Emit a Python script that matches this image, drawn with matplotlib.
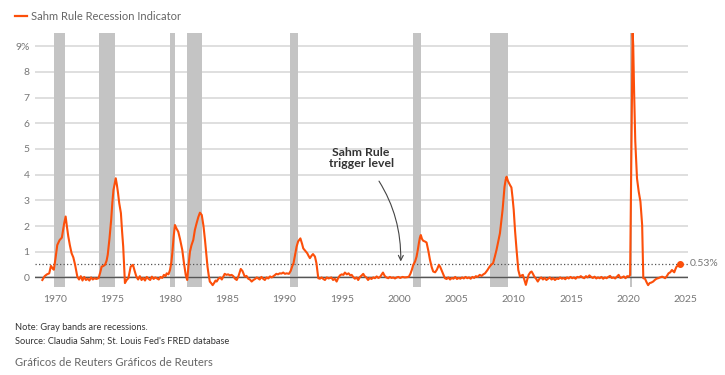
import matplotlib.pyplot as plt

plt.rcParams['font.family'] = ['Lato', 'DejaVu Sans']

# Sahm Rule indicator (year, percentage points)
years = [1968.9, 1969.1, 1969.3, 1969.5, 1969.65, 1969.8, 1969.9, 1970.05, 1970.2, 1970.4,
         1970.6, 1970.8, 1970.93, 1971.05, 1971.16, 1971.3, 1971.45, 1971.6, 1971.75, 1971.95,
         1972.1, 1972.25, 1972.4, 1972.55, 1972.7, 1972.85, 1973.0, 1973.15, 1973.3, 1973.45,
         1973.6, 1973.8, 1973.95, 1974.07, 1974.2, 1974.36, 1974.5, 1974.6, 1974.75, 1974.9,
         1975.0, 1975.1, 1975.3, 1975.4, 1975.5, 1975.6, 1975.75, 1975.85, 1975.95, 1976.1,
         1976.25, 1976.4, 1976.5, 1976.6, 1976.8, 1976.95, 1977.1, 1977.25, 1977.4, 1977.55,
         1977.7, 1977.85, 1978.0, 1978.15, 1978.3, 1978.45, 1978.6, 1978.75, 1978.9, 1979.05,
         1979.2, 1979.35, 1979.5, 1979.65, 1979.74, 1979.9, 1980.03, 1980.15, 1980.23, 1980.35,
         1980.46, 1980.6, 1980.75, 1980.9, 1981.1, 1981.25, 1981.4, 1981.53, 1981.65, 1981.77,
         1981.9, 1982.06, 1982.2, 1982.35, 1982.5, 1982.64, 1982.8, 1982.95, 1983.08, 1983.2,
         1983.3, 1983.4, 1983.5, 1983.62, 1983.75, 1983.9, 1984.0, 1984.1, 1984.25, 1984.4,
         1984.55, 1984.7, 1984.8, 1984.95, 1985.1, 1985.25, 1985.4, 1985.55, 1985.7, 1985.85,
         1986.0, 1986.2, 1986.35, 1986.55, 1986.7, 1986.85, 1987.0, 1987.15, 1987.3, 1987.45,
         1987.6, 1987.7, 1987.85, 1988.0, 1988.15, 1988.3, 1988.45, 1988.6, 1988.75, 1988.9,
         1989.05, 1989.2, 1989.3, 1989.45, 1989.6, 1989.75, 1989.9, 1990.05, 1990.2, 1990.4,
         1990.55, 1990.7, 1990.8, 1990.95, 1991.07, 1991.2, 1991.4, 1991.55, 1991.65, 1991.8,
         1992.0, 1992.1, 1992.23, 1992.38, 1992.5, 1992.67, 1992.8, 1992.96, 1993.1, 1993.25,
         1993.4, 1993.54, 1993.7, 1993.85, 1994.0, 1994.1, 1994.25, 1994.4, 1994.56, 1994.7,
         1994.85, 1995.0, 1995.15, 1995.28, 1995.45, 1995.6, 1995.75, 1995.87, 1996.0, 1996.15,
         1996.3, 1996.44, 1996.6, 1996.75, 1996.88, 1997.0, 1997.15, 1997.3, 1997.45, 1997.6,
         1997.75, 1997.9, 1998.05, 1998.2, 1998.35, 1998.5, 1998.6, 1998.75, 1998.9, 1999.06,
         1999.2, 1999.35, 1999.5, 1999.65, 1999.8, 1999.95, 2000.1, 2000.3, 2000.5, 2000.7,
         2000.86, 2001.0, 2001.12, 2001.24, 2001.4, 2001.53, 2001.63, 2001.73, 2001.82, 2001.9,
         2002.0, 2002.1, 2002.25, 2002.4, 2002.55, 2002.7, 2002.85, 2002.98, 2003.15, 2003.3,
         2003.48, 2003.6, 2003.7, 2003.85, 2004.0, 2004.15, 2004.3, 2004.45, 2004.6, 2004.75,
         2004.9, 2005.05, 2005.2, 2005.35, 2005.5, 2005.65, 2005.8, 2005.95, 2006.1, 2006.25,
         2006.4, 2006.55, 2006.7, 2006.85, 2007.04, 2007.2, 2007.35, 2007.5, 2007.7, 2007.9,
         2008.05, 2008.2, 2008.35, 2008.5, 2008.65, 2008.8, 2008.92, 2009.03, 2009.12, 2009.2,
         2009.3, 2009.38, 2009.5, 2009.67, 2009.8, 2009.9, 2010.0, 2010.12, 2010.25, 2010.4,
         2010.55, 2010.7, 2010.8, 2010.93, 2011.06, 2011.2, 2011.3, 2011.45, 2011.56, 2011.7,
         2011.8, 2011.95, 2012.1, 2012.25, 2012.4, 2012.55, 2012.7, 2012.85, 2013.0, 2013.15,
         2013.3, 2013.45, 2013.6, 2013.75, 2013.9, 2014.05, 2014.2, 2014.35, 2014.5, 2014.65,
         2014.8, 2014.95, 2015.1, 2015.25, 2015.4, 2015.55, 2015.7, 2015.85, 2016.0, 2016.15,
         2016.3, 2016.45, 2016.6, 2016.75, 2016.9, 2017.05, 2017.2, 2017.35, 2017.5, 2017.65,
         2017.8, 2017.95, 2018.1, 2018.25, 2018.4, 2018.55, 2018.7, 2018.85, 2019.0, 2019.15,
         2019.3, 2019.45, 2019.6, 2019.75, 2019.9, 2020.05, 2020.15, 2020.25, 2020.37, 2020.42,
         2020.5, 2020.6, 2020.68, 2020.75, 2020.9, 2021.05, 2021.2, 2021.3, 2021.45, 2021.6,
         2021.72, 2021.85, 2022.0, 2022.16, 2022.3, 2022.45, 2022.6, 2022.75, 2022.95, 2023.1,
         2023.2, 2023.35, 2023.5, 2023.65, 2023.8, 2023.9, 2024.0, 2024.1, 2024.2, 2024.35,
         2024.5]
values = [-0.10, 0.05, 0.12, 0.16, 0.45, 0.35, 0.30, 0.75, 1.26, 1.45,
          1.55, 2.10, 2.37, 1.95, 1.60, 1.25, 0.94, 0.78, 0.50, 0.03,
          -0.08, 0.05, -0.12, 0.02, -0.10, -0.05, -0.12, 0.00, -0.08, -0.03,
          -0.06, -0.03, 0.20, 0.42, 0.44, 0.49, 0.65, 0.88, 1.50, 2.24,
          2.90, 3.40, 3.86, 3.60, 3.28, 2.90, 2.50, 1.80, 1.20, -0.22,
          -0.10, -0.03, 0.20, 0.42, 0.49, 0.25, 0.03, -0.08, 0.05, -0.10,
          -0.02, -0.12, 0.02, -0.05, -0.10, 0.03, -0.06, 0.00, -0.04, -0.08,
          0.02, -0.02, 0.10, 0.05, 0.16, 0.12, 0.29, 0.60, 0.94, 1.60,
          2.04, 1.90, 1.78, 1.50, 1.07, 0.55, 0.10, -0.10, 0.50, 1.00,
          1.25, 1.46, 1.85, 2.11, 2.35, 2.52, 2.43, 2.00, 1.46, 0.90,
          0.42, 0.10, -0.16, -0.22, -0.30, -0.20, -0.12, -0.16, -0.05, 0.00,
          -0.08, 0.05, 0.14, 0.10, 0.12, 0.08, 0.10, 0.05, -0.05, -0.10,
          0.05, 0.33, 0.25, 0.03, 0.06, -0.05, -0.08, -0.16, -0.10, -0.06,
          0.00, -0.03, -0.08, 0.02, -0.05, -0.10, 0.00, -0.04, 0.04, 0.00,
          0.05, 0.10, 0.14, 0.12, 0.16, 0.15, 0.19, 0.14, 0.16, 0.14,
          0.25, 0.45, 0.55, 0.90, 1.20, 1.40, 1.52, 1.30, 1.13, 1.05,
          0.94, 0.85, 0.75, 0.85, 0.91, 0.81, 0.55, -0.03, -0.05, 0.00,
          -0.06, -0.10, 0.00, -0.04, -0.02, 0.00, -0.10, -0.05, -0.16, -0.02,
          0.08, 0.12, 0.10, 0.19, 0.12, 0.16, 0.08, 0.10, 0.02, -0.05,
          0.00, -0.10, 0.02, 0.08, 0.14, 0.05, 0.00, -0.10, -0.02, -0.06,
          0.00, -0.03, 0.04, -0.02, 0.02, 0.12, 0.19, 0.06, 0.00, -0.03,
          0.02, -0.02, 0.00, -0.04, 0.00, 0.02, -0.02, 0.02, 0.00, 0.01,
          0.03, 0.15, 0.30, 0.49, 0.62, 0.81, 1.05, 1.33, 1.55, 1.65,
          1.50, 1.43, 1.40, 1.36, 1.05, 0.68, 0.40, 0.23, 0.20, 0.30,
          0.49, 0.40, 0.29, 0.12, -0.03, -0.06, 0.00, -0.08, -0.02, -0.05,
          0.02, -0.06, -0.02, -0.05, 0.00, -0.04, 0.02, -0.03, 0.00, -0.05,
          0.02, -0.02, 0.05, 0.02, 0.10, 0.06, 0.12, 0.16, 0.28, 0.42,
          0.50, 0.55, 0.80, 1.07, 1.40, 1.72, 2.20, 2.63, 3.10, 3.53,
          3.80, 3.92, 3.75, 3.60, 3.50, 3.10, 2.63, 1.80, 1.07, 0.29,
          0.03, 0.08, 0.10, -0.10, -0.29, -0.05, 0.10, 0.20, 0.23, 0.12,
          0.03, -0.05, -0.16, -0.05, 0.00, -0.08, -0.02, -0.10, -0.05, 0.00,
          -0.08, -0.03, -0.10, -0.04, -0.06, 0.00, -0.05, -0.02, -0.07, 0.00,
          -0.04, 0.02, -0.03, 0.00, -0.05, 0.02, 0.00, 0.05, 0.00, -0.03,
          0.05, 0.00, 0.08, 0.02, -0.02, 0.03, -0.04, 0.00, -0.03, 0.02,
          -0.05, 0.00, -0.03, 0.02, 0.06, -0.02, 0.00, -0.04, 0.03, 0.10,
          -0.02, 0.00, 0.04, -0.03, 0.05, 0.03, 0.10, 4.50, 9.50, 9.05,
          7.20, 5.30, 4.50, 3.86, 3.34, 2.95, 2.04, -0.03, -0.05, -0.20,
          -0.30, -0.22, -0.20, -0.16, -0.10, -0.05, -0.03, 0.00, 0.03, 0.00,
          -0.03, 0.05, 0.16, 0.20, 0.29, 0.24, 0.20, 0.32, 0.42, 0.47,
          0.53]

# NBER recessions (start, end)
rec_start = [1969.9, 1973.85, 1980.0, 1981.5, 1990.5, 2001.2, 2007.95, 2020.1]
rec_end = [1970.85, 1975.2, 1980.5, 1982.85, 1991.2, 2001.9, 2009.5, 2020.3]

trigger = 0.53
yticks = [0, 1, 2, 3, 4, 5, 6, 7, 8, 9]
ytick_labels = ['0', '1', '2', '3', '4', '5', '6', '7', '8', '9%']
xticks = [1970, 1975, 1980, 1985, 1990, 1995, 2000, 2005, 2010, 2015, 2020, 2025]

orange = '#fc4f0a'

fig = plt.figure(figsize=(7.25, 3.75), dpi=100)
ax = fig.add_axes([0.0483, 0.2355, 0.9007, 0.6757])

for s, e in zip(rec_start, rec_end):
    ax.axvspan(s, e, color='#c4c4c4', lw=0, zorder=1)

ax.set_axisbelow(True)
ax.grid(axis='y', color='#dcdcdc', lw=1.3)
ax.axhline(0, color='#555555', lw=1, zorder=2)
ax.axhline(trigger, color='#555555', lw=0.9, ls=(0, (1, 1.8)), zorder=2)

ax.plot(years, values, color=orange, lw=1.5, zorder=3, solid_joinstyle='round')
ax.plot(years[-1], values[-1], 'o', color=orange, ms=4, zorder=4)

ax.set_xlim(1968.26, 2025.2)
ax.set_ylim(-0.36, 9.5)
ax.set_yticks(yticks)
ax.set_yticklabels(ytick_labels)
ax.set_xticks(xticks)
ax.tick_params(axis='both', length=0, labelsize=7.5, labelcolor='#777777')
ax.tick_params(axis='y', pad=4)
ax.tick_params(axis='x', pad=6)
for sp in ax.spines.values():
    sp.set_visible(False)

ax.text(2025.35, trigger, '0.53%', fontsize=7.5, color='#777777', va='center', ha='left', clip_on=False)

ax.annotate('Sahm Rule\ntrigger level', xy=(2000.15, 0.62), xytext=(1996.7, 4.65),
            ha='center', va='center', fontsize=8.8, fontweight='bold', color='#333333',
            linespacing=1.05,
            arrowprops=dict(arrowstyle='->', color='#444444', lw=0.8,
                            connectionstyle='arc3,rad=-0.2', shrinkA=8, shrinkB=0))

# legend / title at top
fig.add_artist(plt.Line2D([15 / 725, 27 / 725], [1 - 16 / 375, 1 - 16 / 375], color=orange, lw=1.6))
fig.text(31 / 725, 1 - 16 / 375, 'Sahm Rule Recession Indicator', fontsize=8, color='#666666', va='center')

fig.text(15 / 725, 1 - 328 / 375, 'Note: Gray bands are recessions.', fontsize=6.7, color='#333333', va='center')
fig.text(15 / 725, 1 - 341 / 375, "Source: Claudia Sahm; St. Louis Fed's FRED database", fontsize=6.7,
         color='#333333', va='center')
fig.text(15 / 725, 1 - 362 / 375, 'Gráficos de Reuters Gráficos de Reuters', fontsize=8.1, color='#666666',
         va='center')

fig.savefig('out.png', dpi=100)
